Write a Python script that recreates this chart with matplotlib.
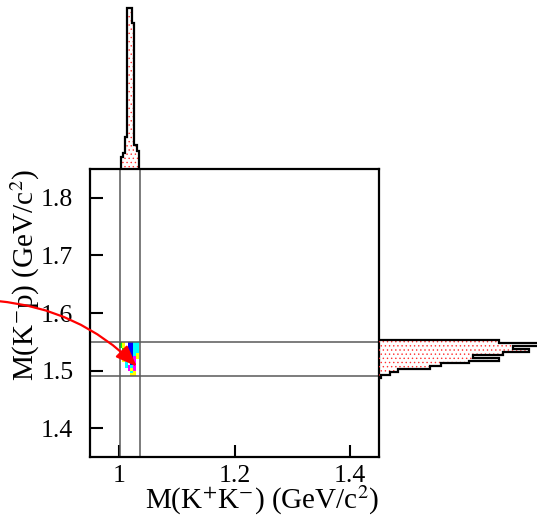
import numpy as np
import matplotlib.pyplot as plt
from matplotlib.colors import ListedColormap, BoundaryNorm

plt.rcParams['font.family'] = ['Liberation Serif', 'DejaVu Serif']
plt.rcParams['mathtext.fontset'] = 'stix'
plt.rcParams['hatch.linewidth'] = 0.5

# selection windows
kk_cut = [1.002, 1.036]
kp_cut = [1.49, 1.55]

# M(K+K-) projection
kk_edges = [1.003, 1.0065, 1.0105, 1.0135, 1.022, 1.026, 1.0305, 1.035]
kk_counts = [12, 16, 32, 160, 145, 24, 18]

# M(K-p) projection
kp_edges = [1.4875, 1.4925, 1.4975, 1.5025, 1.5075, 1.5125, 1.5175, 1.5225,
            1.5275, 1.5325, 1.5375, 1.5425, 1.5475, 1.5525]
kp_counts = [2, 11, 19, 51, 62, 90, 120, 94, 124, 150, 134, 170, 120]

# 2D cells, colour code per cell (0 = empty), rows from M(K-p)=1.49 upward
cell_x = [1.000, 1.005, 1.010, 1.015, 1.020, 1.025, 1.030, 1.035, 1.040]
cell_y = [1.490, 1.495, 1.500, 1.505, 1.510, 1.515, 1.520, 1.525, 1.530,
          1.535, 1.540, 1.545, 1.550]
cells = [
    [0, 0, 0, 0, 1, 1, 0, 0],
    [0, 0, 0, 0, 3, 1, 0, 0],
    [0, 0, 0, 4, 1, 4, 0, 0],
    [0, 0, 3, 4, 3, 4, 0, 0],
    [0, 0, 3, 0, 5, 4, 0, 0],
    [0, 1, 3, 5, 5, 4, 0, 0],
    [0, 2, 3, 5, 5, 4, 1, 0],
    [0, 2, 0, 5, 5, 3, 1, 0],
    [0, 0, 4, 5, 5, 3, 3, 0],
    [0, 2, 4, 5, 5, 3, 3, 0],
    [2, 1, 0, 5, 5, 3, 3, 0],
    [2, 1, 0, 5, 5, 3, 3, 0],
]
cell_colors = ['#ffff00', '#00ff00', '#00ffff', '#ff00ff', '#0000ff', '#ff0000']

fig = plt.figure(figsize=(5.37, 5.17), dpi=100)
W, H = 537.0, 517.0
ax = fig.add_axes([90 / W, 1 - 457 / H, 289 / W, 288 / H])
ax_top = fig.add_axes([90 / W, 1 - 169 / H, 289 / W, 169 / H], sharex=ax)
ax_right = fig.add_axes([379 / W, 1 - 457 / H, 158 / W, 288 / H], sharey=ax)

# scatter as 2D histogram
grid = np.ma.masked_equal(np.array(cells), 0)
cmap = ListedColormap(cell_colors)
norm = BoundaryNorm(np.arange(0.5, len(cell_colors) + 1.5), cmap.N)
ax.pcolormesh(cell_x, cell_y, grid, cmap=cmap, norm=norm, zorder=1)

for x in kk_cut:
    ax.axvline(x, color='0.35', lw=1.1, zorder=2)
for y in kp_cut:
    ax.axhline(y, color='0.35', lw=1.1, zorder=2)

ax.set_xlim(0.95, 1.45)
ax.set_ylim(1.35, 1.85)
ax.set_xticks([1.0, 1.2, 1.4])
ax.set_xticklabels(['1', '1.2', '1.4'])
ax.set_yticks([1.4, 1.5, 1.6, 1.7, 1.8])
ax.tick_params(direction='in', length=9, width=1.5, labelsize=18.5)
ax.tick_params(axis='x', pad=6)
ax.tick_params(axis='y', pad=12)
for s in ax.spines.values():
    s.set_linewidth(1.6)

ax.set_xlabel(r'M(K$^{+}$K$^{-}$) (GeV/c$^{2}$)', fontsize=21, loc='right')
ax.xaxis.label.set_va('baseline')
ax.xaxis.set_label_coords(1.0, -(509 - 457) / 288)
ax.set_ylabel(r'M(K$^{-}$p) (GeV/c$^{2}$)', fontsize=21, loc='top')
ax.yaxis.set_label_coords(-(90 - 42) / 289, 1.0)

# arrow pointing at the cluster
ax.annotate('', xy=(1.031, 1.507), xycoords='data',
            xytext=(-0.005, 1 - 301 / H), textcoords='figure fraction',
            arrowprops=dict(arrowstyle='-|>,head_length=0.65,head_width=0.25',
                            color='red', lw=1.6, mutation_scale=20,
                            connectionstyle='arc3,rad=-0.18',
                            shrinkA=0, shrinkB=0),
            annotation_clip=False, zorder=5)

# top projection
ax_top.stairs(kk_counts, kk_edges, fill=True, facecolor='none',
              edgecolor='#ff3030', hatch='....', linewidth=0)
ax_top.stairs(kk_counts, kk_edges, baseline=0, color='black', lw=1.6)
ax_top.set_ylim(0, 168)
ax_top.axis('off')

# right projection
ax_right.stairs(kp_counts, kp_edges, orientation='horizontal', fill=True,
                facecolor='none', edgecolor='#ff3030', hatch='....', linewidth=0)
ax_right.stairs(kp_counts, kp_edges, orientation='horizontal', baseline=0,
                color='black', lw=1.6)
ax_right.set_xlim(0, 158)
ax_right.axis('off')

fig.savefig('out.png', dpi=100)
